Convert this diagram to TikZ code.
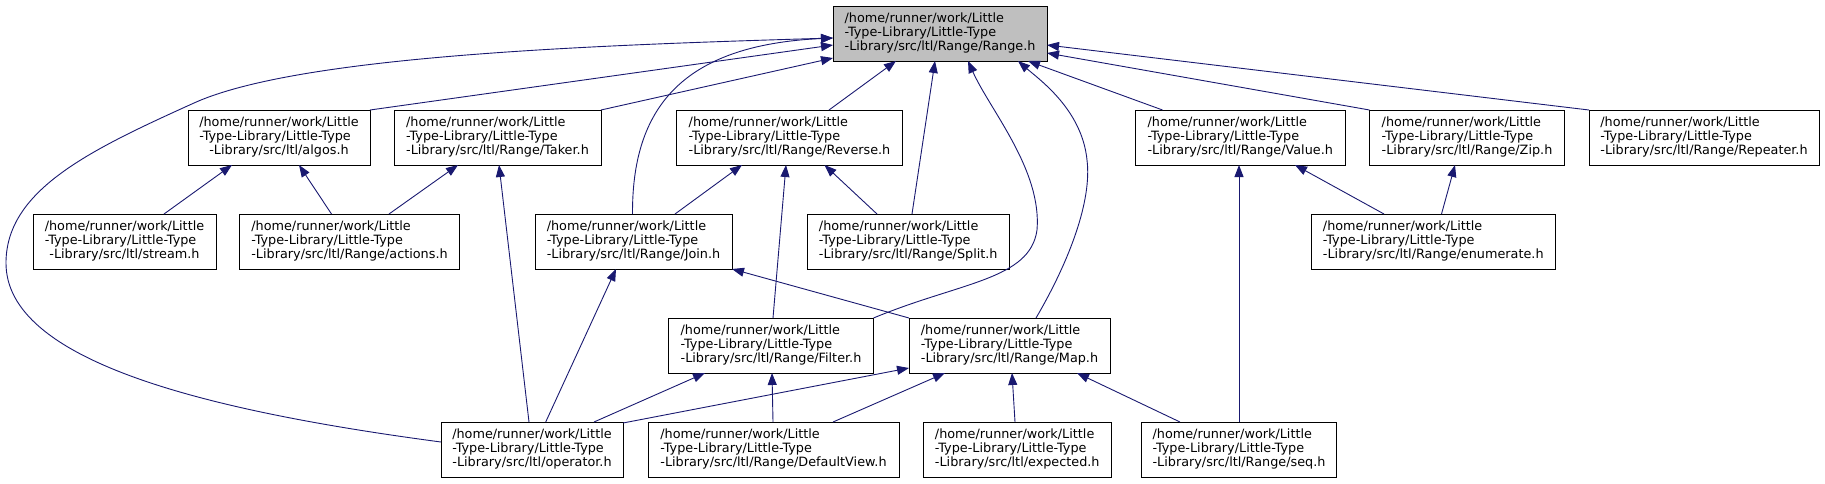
\documentclass[tikz,border=0pt]{standalone}
\usepackage{fontspec}
\setmainfont{DejaVu Sans}
\usetikzlibrary{arrows.meta,calc}
\definecolor{edgeblue}{RGB}{25,25,112}
\definecolor{rootgray}{RGB}{191,191,191}
\newcommand\lbl[1]{\begin{tabular}{@{}l@{}}/home/runner/work/Little\\-Type-Library/Little-Type\\\multicolumn{1}{@{}c@{}}{#1}\end{tabular}}
\tikzset{
  filebox/.style={draw=black, line width=1pt, fill=white, inner sep=0pt, outer sep=0pt,
    minimum height=55pt, anchor=north west, font=\fontsize{12.8}{14.3}\selectfont},
  rootbox/.style={filebox, fill=rootgray},
  edge/.style={draw=edgeblue, line width=0.9pt, -{Triangle[length=12pt,width=9pt]}}
}
\begin{document}
\begin{tikzpicture}[x=1pt,y=-1pt]
\useasboundingbox (0,0) rectangle (1825,483);
% nodes
\node[rootbox, minimum width=214pt] (range) at (833,6) {\lbl{-Library/src/ltl/Range/Range.h}};
\node[filebox, minimum width=182pt] (algos) at (188,110) {\lbl{-Library/src/ltl/algos.h}};
\node[filebox, minimum width=207pt] (taker) at (394,110) {\lbl{-Library/src/ltl/Range/Taker.h}};
\node[filebox, minimum width=226pt] (reverse) at (676.5,110) {\lbl{-Library/src/ltl/Range/Reverse.h}};
\node[filebox, minimum width=209.5pt] (value) at (1135.5,110) {\lbl{-Library/src/ltl/Range/Value.h}};
\node[filebox, minimum width=195pt] (zip) at (1369.5,110) {\lbl{-Library/src/ltl/Range/Zip.h}};
\node[filebox, minimum width=230pt] (repeater) at (1589,110) {\lbl{-Library/src/ltl/Range/Repeater.h}};
\node[filebox, minimum width=183pt] (stream) at (33,214) {\lbl{-Library/src/ltl/stream.h}};
\node[filebox, minimum width=220pt] (actions) at (239.5,214) {\lbl{-Library/src/ltl/Range/actions.h}};
\node[filebox, minimum width=197pt] (join) at (535,214) {\lbl{-Library/src/ltl/Range/Join.h}};
\node[filebox, minimum width=201.5pt] (split) at (807.5,214) {\lbl{-Library/src/ltl/Range/Split.h}};
\node[filebox, minimum width=244.5pt] (enumerate) at (1311,214) {\lbl{-Library/src/ltl/Range/enumerate.h}};
\node[filebox, minimum width=205pt] (filter) at (668.5,318) {\lbl{-Library/src/ltl/Range/Filter.h}};
\node[filebox, minimum width=201pt] (map) at (909,318) {\lbl{-Library/src/ltl/Range/Map.h}};
\node[filebox, minimum width=182pt] (operator) at (441,422) {\lbl{-Library/src/ltl/operator.h}};
\node[filebox, minimum width=251pt] (defaultview) at (648,422) {\lbl{-Library/src/ltl/Range/DefaultView.h}};
\node[filebox, minimum width=187.5pt] (expected) at (923.5,422) {\lbl{-Library/src/ltl/expected.h}};
\node[filebox, minimum width=195pt] (seq) at (1141.5,422) {\lbl{-Library/src/ltl/Range/seq.h}};
% edges
\draw[edge] (algos.north east) -- ($(range.north west)+(0,39)$);
\draw[edge] (taker.north east) -- ($(range.north west)+(0,52)$);
\draw[edge] ($(stream.north west)+(131,0)$) -- ($(algos.south west)+(44,0)$);
\draw[edge] ($(actions.north west)+(92,0)$) -- ($(algos.south west)+(111,0)$);
\draw[edge] ($(actions.north west)+(149.5,0)$) -- ($(taker.south west)+(64,0)$);
\draw[edge] ($(operator.north west)+(88,0)$) -- ($(taker.south west)+(105,0)$);
\draw[edge] ($(reverse.north west)+(152.5,0)$) -- ($(range.south west)+(63,0)$);
\draw[edge] ($(join.north west)+(140,0)$) -- ($(reverse.south west)+(65.5,0)$);
\draw[edge] ($(split.north west)+(69.5,0)$) -- ($(reverse.south west)+(148,0)$);
\draw[edge] ($(filter.north west)+(104.5,0)$) -- ($(reverse.south west)+(109.5,0)$);
\draw[edge] ($(join.north west)+(97.5,0)$) .. controls (632,110) and (680,45) .. ($(range.north west)+(0,32)$);
\draw[edge] ($(split.north west)+(104.5,0)$) -- ($(range.south west)+(102,0)$);
\draw[edge] (filter.north east) .. controls (960,282) and (1030,280) .. (1037,230) .. controls (1042,170) and (990,110) .. ($(range.south west)+(135,0)$);
\draw[edge] ($(map.north west)+(127,0)$) .. controls (1070,260) and (1092,200) .. (1087,160) .. controls (1082,110) and (1040,80) .. ($(range.south west)+(185,0)$);
\draw[edge] ($(value.north west)+(27,0)$) -- ($(range.south west)+(195,0)$);
\draw[edge] (zip.north west) -- ($(range.north east)+(0,47)$);
\draw[edge] (repeater.north west) -- ($(range.north east)+(0,39)$);
\draw[edge] ($(enumerate.north west)+(73,0)$) -- ($(value.south west)+(159.5,0)$);
\draw[edge] ($(enumerate.north west)+(130.5,0)$) -- ($(zip.south west)+(85.5,0)$);
\draw[edge] ($(seq.north west)+(97.5,0)$) -- ($(value.south west)+(103.5,0)$);
\draw[edge] (map.north west) -- (join.south east);
\draw[edge] ($(operator.north west)+(104.7,0)$) -- ($(join.south west)+(81,0)$);
\draw[edge] ($(operator.north west)+(153,0)$) -- ($(filter.south west)+(36.5,0)$);
\draw[edge] ($(operator.north east)+(0,1)$) -- ($(map.south west)+(0,-5)$);
\draw[edge] ($(defaultview.north west)+(125,0)$) -- ($(filter.south west)+(103.5,0)$);
\draw[edge] ($(defaultview.north west)+(185,0)$) -- ($(map.south west)+(36,0)$);
\draw[edge] ($(expected.north west)+(91.5,0)$) -- ($(map.south west)+(103,0)$);
\draw[edge] ($(seq.north west)+(38.5,0)$) -- ($(map.south west)+(168,0)$);
\draw[edge] ($(operator.north west)+(0,20)$) .. controls (200,410) and (6,360) .. (6,263) .. controls (6,190) and (90,150) .. (194,103) .. controls (300,55) and (600,45) .. ($(range.north west)+(0,32)$);
\end{tikzpicture}
\end{document}
